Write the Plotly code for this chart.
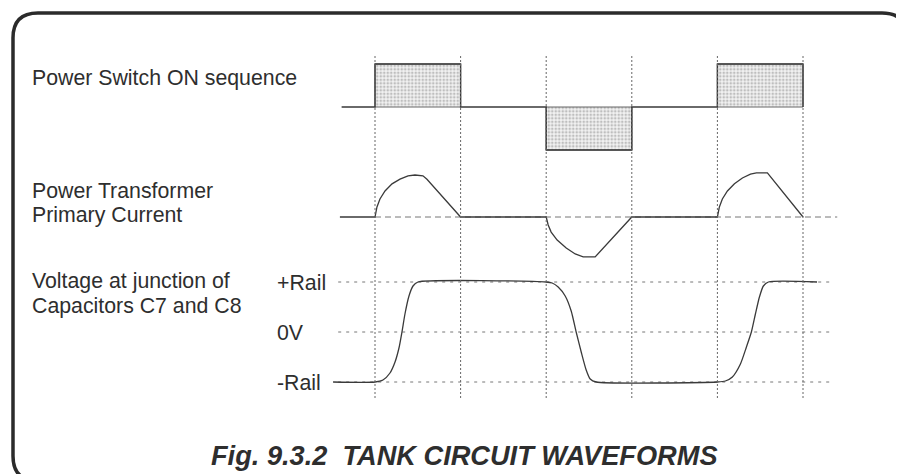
import plotly.graph_objects as go

# ---------------- data ----------------
event_times = [0, 1, 2, 3, 4, 5]

switch_t = [-0.39, 0, 0, 1, 1, 2, 2, 3, 3, 4, 4, 5, 5]
switch_v = [0, 0, 1, 1, 0, 0, -1, -1, 0, 0, 1, 1, 0]
pulse_starts = [0, 2, 4]
pulse_ends = [1, 3, 5]
pulse_levels = [1, -1, 1]

current_t = [-0.41, 0.0, 0.023, 0.058, 0.117, 0.199, 0.292, 0.386, 0.467, 0.56, 0.607, 1.0,
             2.0, 2.023, 2.058, 2.128, 2.234, 2.339, 2.432, 2.572, 3.0,
             4.0, 4.023, 4.058, 4.117, 4.199, 4.292, 4.386, 4.456, 4.584, 5.0]
current_v = [0, 0, 0.24, 0.43, 0.62, 0.79, 0.90, 0.98, 1.0, 0.98, 0.90, 0,
             0, -0.19, -0.36, -0.55, -0.74, -0.88, -0.95, -0.95, 0,
             0, 0.24, 0.43, 0.62, 0.79, 0.93, 1.02, 1.05, 1.05, 0]
current_ref_extent = [0, 5.4]

voltage_t = [-0.49, 0.0, 0.093, 0.175, 0.234, 0.28, 0.315, 0.35, 0.397, 0.444, 0.502,
             2.0, 2.07, 2.14, 2.222, 2.292, 2.35, 2.409, 2.467, 2.514, 2.584,
             4.0, 4.093, 4.175, 4.269, 4.339, 4.397, 4.444, 4.491, 4.537, 4.596, 5.164]
voltage_v = [-1, -1, -0.96, -0.82, -0.6, -0.32, 0, 0.36, 0.72, 0.92, 1.0,
             1.0, 0.98, 0.9, 0.72, 0.42, 0, -0.4, -0.76, -0.94, -1.0,
             -1.0, -0.98, -0.9, -0.64, -0.3, 0, 0.36, 0.7, 0.92, 1.0, 1.0]
rail_labels = ["+Rail", "0V", "-Rail"]
rail_levels = [1, 0, -1]
rail_extent = [-0.43, 5.35]

row_labels = [["Power Switch ON sequence"],
              ["Power Transformer", "Primary Current"],
              ["Voltage at junction of", "Capacitors C7 and C8"]]
caption = "Fig. 9.3.2  TANK CIRCUIT WAVEFORMS"

# ---------------- layout geometry ----------------
# the page body has an 8px margin, so the figure sits at (8, 8) in the window
VW, VH = 904, 474
OFF = 8
W, H = VW - OFF, VH - OFF
def px(x): return (x - OFF) / W
def py(y): return 1 - (y - OFF) / H

LINE = "#3a3a3a"
TEXT = "#2e2e2e"
FONT = "Liberation Sans, Arial, Helvetica, sans-serif"

fig = go.Figure()

# stippled switch pulses
for s, e, lv in zip(pulse_starts, pulse_ends, pulse_levels):
    fig.add_trace(go.Scatter(
        x=[s, s, e, e, s], y=[0, lv, lv, 0, 0], mode="lines",
        fill="toself", fillcolor="rgba(0,0,0,0)",
        fillpattern=dict(shape=".", fgcolor="#8a8a8a", bgcolor="#f2f2f2", size=3.5, solidity=0.45),
        line=dict(color="#666", width=1), yaxis="y", hoverinfo="skip", showlegend=False))

fig.add_trace(go.Scatter(x=switch_t, y=switch_v, mode="lines",
                         line=dict(color=LINE, width=1.4), yaxis="y", showlegend=False))

# current
fig.add_trace(go.Scatter(x=current_ref_extent, y=[0, 0], mode="lines",
                         line=dict(color="#777", width=1, dash="6px,4px"), yaxis="y2", showlegend=False))
fig.add_trace(go.Scatter(x=current_t, y=current_v, mode="lines",
                         line=dict(color=LINE, width=1.3), yaxis="y2", showlegend=False))

# voltage
for lv in rail_levels:
    fig.add_trace(go.Scatter(x=rail_extent, y=[lv, lv], mode="lines",
                             line=dict(color="#777", width=1, dash="3px,5px"), yaxis="y3", showlegend=False))
fig.add_trace(go.Scatter(x=voltage_t, y=voltage_v, mode="lines",
                         line=dict(color=LINE, width=1.3, shape="spline", smoothing=0.6),
                         yaxis="y3", showlegend=False))

# vertical dotted event lines
shapes = []
for t in event_times:
    shapes.append(dict(type="line", xref="x", yref="paper", x0=t, x1=t,
                       y0=py(398), y1=py(55), line=dict(color="#666", width=1, dash="2px,2px")))

# rounded frame
x0, x1, y0, y1, r = 13, 907, 13, 481, 25
def P(x, y): return f"{px(x):.5f},{py(y):.5f}"
path = (f"M {P(x0 + r, y0)} L {P(x1 - r, y0)} Q {P(x1, y0)} {P(x1, y0 + r)} "
        f"L {P(x1, y1 - r)} Q {P(x1, y1)} {P(x1 - r, y1)} L {P(x0 + r, y1)} "
        f"Q {P(x0, y1)} {P(x0, y1 - r)} L {P(x0, y0 + r)} Q {P(x0, y0)} {P(x0 + r, y0)} Z")
shapes.append(dict(type="path", xref="paper", yref="paper", path=path,
                   line=dict(color="#2b2b2b", width=3.5)))

annotations = []
label_centers = [[78], [191, 215], [281, 306]]
for lines, ys in zip(row_labels, label_centers):
    for txt, yc in zip(lines, ys):
        annotations.append(dict(text=txt, xref="paper", yref="paper", x=px(30), y=py(yc),
                                xanchor="left", yanchor="middle", showarrow=False,
                                font=dict(family=FONT, size=21.3, color=TEXT)))
for txt, lv in zip(rail_labels, rail_levels):
    annotations.append(dict(text=txt, xref="paper", yref="y3", x=px(275), y=lv,
                            xanchor="left", yanchor="middle", showarrow=False, yshift=-1,
                            font=dict(family=FONT, size=21.3, color=TEXT)))
annotations.append(dict(text=f"<b><i>{caption}</i></b>", xref="paper", yref="paper",
                        x=px(464), y=py(455), xanchor="center", yanchor="middle", showarrow=False,
                        font=dict(family=FONT, size=27.2, color=TEXT)))

# axes: window pixel mapping x = 375 + 85.6*t
xr = [(OFF - 375) / 85.6, (VW - 375) / 85.6]
fig.update_layout(
    width=W, height=H, margin=dict(l=0, r=0, t=0, b=0),
    paper_bgcolor="white", plot_bgcolor="white",
    xaxis=dict(range=xr, visible=False, domain=[0, 1]),
    yaxis=dict(range=[(107 - VH) / 43, (107 - OFF) / 43], visible=False, domain=[0, 1]),
    yaxis2=dict(range=[(217 - VH) / 42, (217 - OFF) / 42], visible=False, overlaying="y"),
    yaxis3=dict(range=[(332 - VH) / 50, (332 - OFF) / 50], visible=False, overlaying="y"),
    shapes=shapes, annotations=annotations, showlegend=False,
)

fig.write_html("out.html")
